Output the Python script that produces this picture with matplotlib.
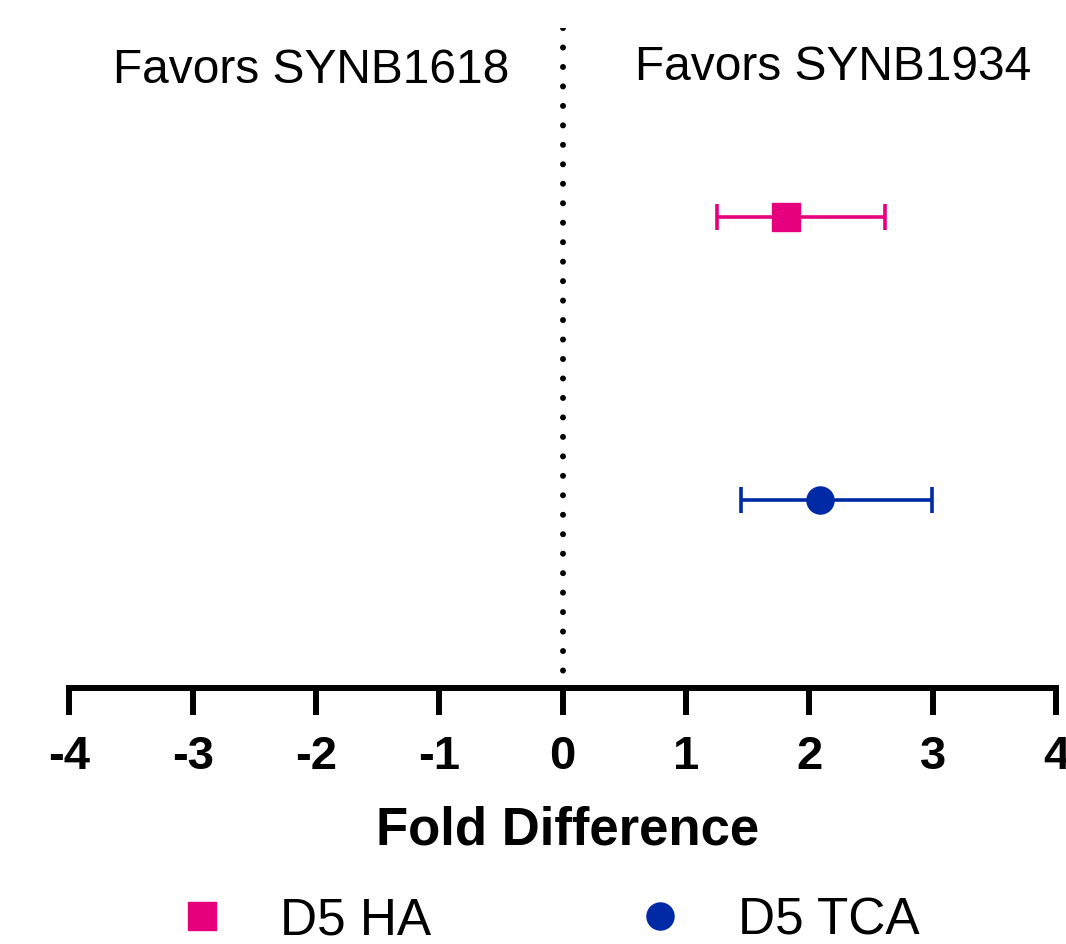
import numpy as np
import matplotlib
matplotlib.use('Agg')
import matplotlib.pyplot as plt

plt.rcParams['font.family'] = ['Liberation Sans', 'DejaVu Sans']

# data
labels = ['D5 HA', 'D5 TCA']
fold_diff = [1.81, 2.09]
ci_low = [1.255, 1.45]
ci_high = [2.615, 2.995]
rows = [2, 1]
colors = ['#E6007E', '#0029A5']
markers = ['s', 'o']

fig = plt.figure(figsize=(10.66, 9.45), dpi=100)
ax = fig.add_axes([0.065, 0.2704, 0.9256, 0.6986])

for i in range(len(labels)):
    err = [[fold_diff[i] - ci_low[i]], [ci_high[i] - fold_diff[i]]]
    ax.errorbar([fold_diff[i]], [rows[i]], xerr=err, fmt='none',
                ecolor=colors[i], elinewidth=2.6, capsize=9.7, capthick=2.6)
    ax.plot([fold_diff[i]], [rows[i]], linestyle='none', marker=markers[i],
            ms=19.5, color=colors[i], mec=colors[i], label=labels[i], zorder=3)

ylo, yhi = 0.334, 2.668

# dotted zero line, drawn top-down so the dots start at the top
ax.plot([0, 0], [yhi, ylo], color='black', lw=4.3, linestyle=(0, (0.01, 3.25)),
        dash_capstyle='round', zorder=1)

ax.set_xlim(-4, 4)
ax.set_ylim(ylo, yhi)
ax.set_xticks(np.arange(-4, 5, 1))
ax.set_xticklabels([str(v) for v in range(-4, 5)], fontsize=34, fontweight='bold')
ax.tick_params(axis='x', length=19.5, width=4.3, pad=13, direction='out')
ax.set_yticks([])
for s in ['top', 'right', 'left']:
    ax.spines[s].set_visible(False)
ax.spines['bottom'].set_linewidth(4.3)

ax.set_xlabel('Fold Difference', fontsize=38, fontweight='bold')
ax.xaxis.set_label_coords(0.505, -0.175)

fig.text(311 / 1066, 1 - 83 / 945, 'Favors SYNB1618', fontsize=34.5,
         ha='center', va='baseline')
fig.text(833 / 1066, 1 - 80 / 945, 'Favors SYNB1934', fontsize=34.5,
         ha='center', va='baseline')

fig.legend(loc='center left', bbox_to_anchor=(176 / 1066, 1 - 921 / 945),
           ncol=2, frameon=False, fontsize=37, handlelength=1.0,
           handletextpad=1.02, columnspacing=3.95, borderpad=0,
           borderaxespad=0, markerscale=1.0)

fig.savefig('out.png', dpi=100)
